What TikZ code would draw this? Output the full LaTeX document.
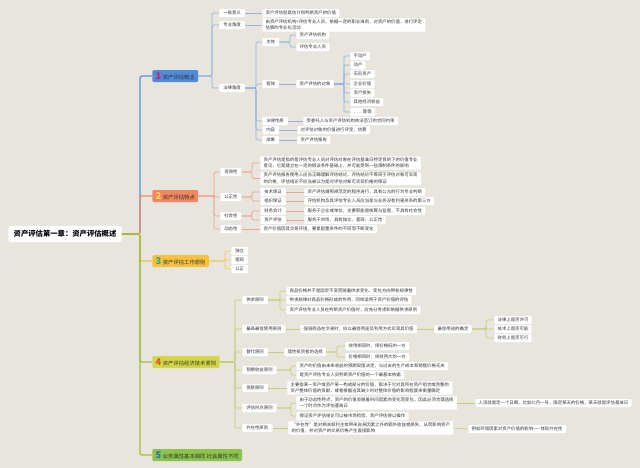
\documentclass[tikz,border=0pt]{standalone}
\usepackage{fontspec}
\setmainfont{Noto Sans CJK SC}
\usetikzlibrary{calc}
\definecolor{bgc}{HTML}{E8E5DE}
\definecolor{b1c}{HTML}{4F8BDB}
\definecolor{b2c}{HTML}{F2875F}
\definecolor{b3c}{HTML}{F4C23C}
\definecolor{b4c}{HTML}{D3D646}
\definecolor{b5c}{HTML}{8CC34B}
\definecolor{l1c}{HTML}{5B8FD6}
\definecolor{l2c}{HTML}{EE8A6A}
\definecolor{l3c}{HTML}{F2C23A}
\definecolor{l4c}{HTML}{A3BA45}
\definecolor{s1c}{HTML}{93B3D8}
\definecolor{s2c}{HTML}{EDA393}
\definecolor{s3c}{HTML}{EFCB62}
\definecolor{s4c}{HTML}{C3CE78}
\definecolor{n1c}{HTML}{D81B60}
\definecolor{n2c}{HTML}{F9E04C}
\definecolor{n3c}{HTML}{2FA58A}
\definecolor{n4c}{HTML}{E0572A}
\definecolor{n5c}{HTML}{2E6DB4}
\definecolor{txt}{HTML}{333333}
\newcommand\bnum[2]{{\fontsize{7}{7}\selectfont\bfseries\color{#1}#2}\hspace{1.2pt}}
\newcommand\myelb[4]{\draw[#1] (#2.east) -- (#2.east -| #3) |- (#4.west);}
\newcommand\mystr[3]{\draw[#1] (#2.east) -- (#3.west);}
\tikzset{
  leaf/.style={fill=white, rounded corners=0.8pt, inner xsep=2.5pt, inner ysep=1pt,
    minimum height=6pt, anchor=west, font=\fontsize{3.3}{4.9}\selectfont, text=txt, align=left},
  lab/.style={leaf, inner xsep=3pt},
  brbox/.style={rounded corners=1pt, inner xsep=2.5pt, inner ysep=0.5pt, minimum height=9pt,
    anchor=west, font=\fontsize{4}{4}\selectfont, text=txt},
  rootbox/.style={fill=white, rounded corners=2pt, inner xsep=4pt, minimum height=10.5pt,
    font=\fontsize{5.5}{5.5}\selectfont\bfseries, text=black},
  m1/.style={draw=l1c, line width=0.9pt, rounded corners=1.5pt},
  m2/.style={draw=l2c, line width=0.9pt, rounded corners=1.5pt},
  m3/.style={draw=l3c, line width=0.9pt, rounded corners=1.5pt},
  m4/.style={draw=l4c, line width=0.9pt, rounded corners=1.5pt},
  s1/.style={draw=s1c, line width=0.45pt, rounded corners=1pt},
  s2/.style={draw=s2c, line width=0.45pt, rounded corners=1pt},
  s3/.style={draw=s3c, line width=0.45pt, rounded corners=1pt},
  s4/.style={draw=s4c, line width=0.45pt, rounded corners=1pt},
}
\begin{document}
\begin{tikzpicture}[x=0.75pt,y=-0.75pt]
\fill[bgc] (0,0) rectangle (640,468);
\useasboundingbox (0,0) rectangle (640,468);
% bus coordinates
\coordinate (trunk) at (140,0);
\coordinate (x1) at (212,0);
\coordinate (x1c) at (256,0);
\coordinate (x1z) at (290,0);
\coordinate (x1k) at (344,0);
\coordinate (x2) at (214,0);
\coordinate (x2a) at (252,0);
\coordinate (x3) at (225,0);
\coordinate (x4) at (235,0);
\coordinate (x4a) at (280,0);
\coordinate (x4b) at (486,0);
\coordinate (x4c) at (337,0);
\coordinate (x4d) at (291,0);

% root and branches
\node[rootbox] (root) at (65,234) {资产评估第一章：资产评估概述};
\node[brbox, fill=b1c] (b1) at (152,76) {\bnum{n1c}{1}资产评估概念};
\node[brbox, fill=b2c] (b2) at (152,196) {\bnum{n2c}{2}资产评估特点};
\node[brbox, fill=b3c] (b3) at (152,261) {\bnum{n3c}{3}资产评估工作原则};
\node[brbox, fill=b4c] (b4) at (152,362) {\bnum{n4c}{4}资产评估经济技术原则};
\node[brbox, fill=b5c] (b5) at (152,455) {\bnum{n5c}{5}业务属性基本相同 社会属性不同};

\myelb{m1}{root}{trunk}{b1}
\myelb{m2}{root}{trunk}{b2}
\myelb{m3}{root}{trunk}{b3}
\myelb{m4}{root}{trunk}{b4}
\myelb{m4}{root}{trunk}{b5}

% ===== branch 1
\node[lab] (l1a) at (219,13) {一般意义};
\node[lab] (l1b) at (219,25) {专业角度};
\node[lab] (l1c) at (219,88) {法律角度};
\node[leaf] (t1a) at (262,13) {资产评估就是估计和判断资产的价值};
\node[leaf] (t1b) at (262,25) {由资产评估机构+评估专业人员，依据一定的职业准则，对资产的价值，进行评定\\估算的专业化活动};
\myelb{s1}{b1}{x1}{l1a}
\myelb{s1}{b1}{x1}{l1b}
\myelb{s1}{b1}{x1}{l1c}
\mystr{s1}{l1a}{t1a}
\mystr{s1}{l1b}{t1b}

\node[lab] (zt) at (262,42) {主体};
\node[lab] (kt) at (262,84) {客体};
\node[lab] (fx) at (262,121) {法律性质};
\node[lab] (nr) at (262,130) {内容};
\node[lab] (cg) at (262,140) {成果};
\myelb{s1}{l1c}{x1c}{zt}
\myelb{s1}{l1c}{x1c}{kt}
\myelb{s1}{l1c}{x1c}{fx}
\myelb{s1}{l1c}{x1c}{nr}
\myelb{s1}{l1c}{x1c}{cg}

\node[leaf] (zt1) at (296,35) {资产评估机构};
\node[leaf] (zt2) at (296,47) {评估专业人员};
\myelb{s1}{zt}{x1z}{zt1}
\myelb{s1}{zt}{x1z}{zt2}

\node[leaf] (dx) at (296,84) {资产评估的对象};
\mystr{s1}{kt}{dx}
\node[leaf] (k1) at (350,56) {不动产};
\node[leaf] (k2) at (350,65) {动产};
\node[leaf] (k3) at (350,74) {无形资产};
\node[leaf] (k4) at (350,84) {企业价值};
\node[leaf] (k5) at (350,93) {资产损失};
\node[leaf] (k6) at (350,102) {其他经济权益};
\node[leaf] (k7) at (350,112) {……等等};
\foreach \k in {k1,k2,k3,k4,k5,k6,k7} {\myelb{s1}{dx}{x1k}{\k}}

\node[leaf] (fx1) at (303,121) {受委托人与资产评估机构依法签订的合同约束};
\node[leaf] (nr1) at (297,130) {对评估对象的价值进行评定、估算};
\node[leaf] (cg1) at (297,140) {资产评估报告};
\mystr{s1}{fx}{fx1}
\mystr{s1}{nr}{nr1}
\mystr{s1}{cg}{cg1}

% ===== branch 2
\node[lab] (zx) at (220,172) {咨询性};
\node[lab] (gz) at (220,197) {公正性};
\node[lab] (sh) at (220,216) {社会性};
\node[lab] (dt) at (220,229) {动态性};
\foreach \k in {zx,gz,sh,dt} {\myelb{s2}{b2}{x2}{\k}}

\node[leaf] (zx1) at (260,163) {资产评估是指的是评估专业人员对评估对象在评估基准日特定目的下的价值专业\\意见，它是建立在一定的假设条件基础上，并可能受到一些限制条件的影响};
\node[leaf] (zx2) at (260,178.5) {资产评估报告使用人应当正确理解评估结论，评估结论不等同于评估对象可实现\\的价格，评估结论不应当被认为是对评估对象可实现价格的保证};
\myelb{s2}{zx}{x2a}{zx1}
\myelb{s2}{zx}{x2a}{zx2}

\node[lab] (js) at (260,192) {技术保证};
\node[lab] (zz) at (260,201) {组织保证};
\node[lab] (cw) at (260,211) {财务会计};
\node[lab] (zp) at (260,220) {资产评估};
\myelb{s2}{gz}{x2a}{js}
\myelb{s2}{gz}{x2a}{zz}
\myelb{s2}{sh}{x2a}{cw}
\myelb{s2}{sh}{x2a}{zp}
\node[leaf] (js1) at (304,192) {资产评估遵照规范定的程序进行，具有公允的行为专业判断};
\node[leaf] (zz1) at (304,201) {评估机构及其评估专业人员应当是与业务没有利害关系的第三方};
\node[leaf] (cw1) at (304,211) {服务于企业或单位，主要职能是核算与监督，不具有社会性};
\node[leaf] (zp1) at (304,220) {服务于市场，具有独立、客观、公正性};
\mystr{s2}{js}{js1}
\mystr{s2}{zz}{zz1}
\mystr{s2}{cw}{cw1}
\mystr{s2}{zp}{zp1}
\node[leaf] (dt1) at (260,229) {资产价值因其交易环境，要素配置条件的不同而不断变化};
\mystr{s2}{dt}{dt1}

% ===== branch 3
\node[lab] (dl) at (231,251) {独立};
\node[lab] (kg) at (231,260) {客观};
\node[lab] (gzz) at (231,269) {公正};
\foreach \k in {dl,kg,gzz} {\myelb{s3}{b3}{x3}{\k}}

% ===== branch 4
\node[lab] (gq) at (242,300) {供求原则};
\node[lab] (zg) at (242,329) {最高最佳使用原则};
\node[lab] (td) at (242,352) {替代原则};
\node[lab] (yq) at (242,370) {预期收益原则};
\node[lab] (gx) at (242,388) {贡献原则};
\node[lab] (sd) at (242,408) {评估时点原则};
\node[lab] (wz) at (242,428) {外在性原则};
\foreach \k in {gq,zg,td,yq,gx,sd,wz} {\myelb{s4}{b4}{x4}{\k}}

\node[leaf] (gq1) at (286,291) {商品价格并不是固定不变而随着供求变化，变化方向带有规律性};
\node[leaf] (gq2) at (286,300) {供求规律对商品价格形成的作用，同样适用于资产价值的评估};
\node[leaf] (gq3) at (286,310) {资产评估专业人员在判断资产价值时，应充分考虑和依据供求原则};
\foreach \k in {gq1,gq2,gq3} {\myelb{s4}{gq}{x4a}{\k}}

\node[leaf] (zg1) at (300,329) {强调商品在交易时，应以最佳用途及利用方式实现其价值};
\node[leaf] (zg2) at (434,329) {最佳用途的确定};
\mystr{s4}{zg}{zg1}
\mystr{s4}{zg1}{zg2}
\node[leaf] (zg3) at (494,320) {法律上是否许可};
\node[leaf] (zg4) at (494,329) {技术上是否可能};
\node[leaf] (zg5) at (494,338) {财务上是否可行};
\foreach \k in {zg3,zg4,zg5} {\myelb{s4}{zg2}{x4b}{\k}}

\node[leaf] (td1) at (284,352) {理性投资者的选择};
\mystr{s4}{td}{td1}
\node[leaf] (td2) at (345,346) {效用相同时，择价格低的一方};
\node[leaf] (td3) at (345,357) {价格相同时，择效用大的一方};
\myelb{s4}{td1}{x4c}{td2}
\myelb{s4}{td1}{x4c}{td3}

\node[leaf] (yq1) at (296,366) {资产的价值由未来收益的预期现值决定，与过去的生产成本和销售价格无关};
\node[leaf] (yq2) at (296,375) {是资产评估专业人员判断资产价值的一个最基本依据};
\myelb{s4}{yq}{x4d}{yq1}
\myelb{s4}{yq}{x4d}{yq2}

\node[leaf] (gx1) at (287,388) {主要指某一资产或资产某一构成部分的价值，取决于它对其所在资产组合或完整的\\资产整体价值的贡献，或者根据当其缺少时对整体价值的影响程度来衡量确定};
\mystr{s4}{gx}{gx1}

\node[leaf] (sd1) at (296,403) {由于动态性特点，资产的价值会随着时间因素的变化而变化，因此必须合理选择\\一个时点作为评估基准日};
\node[leaf] (sd2) at (296,416) {保证资产评估结论可以被市场检验，资产评估得以操作};
\myelb{s4}{sd}{x4d}{sd1}
\myelb{s4}{sd}{x4d}{sd2}
\node[leaf] (sd3) at (475,403) {人话就是定一个日期，比如七月一号，限定某天的价格，某天就是评估基准日};
\mystr{s4}{sd1}{sd3}

\node[leaf] (wz1) at (288,428) {“外在性”是对相关权利主体带来自身因素之外的额外收益或损失，从而影响资产\\的价值，并对资产的交易价格产生直接影响};
\node[leaf] (wz2) at (468,429) {例如环境因素对资产价值的影响——体现外在性};
\mystr{s4}{wz}{wz1}
\mystr{s4}{wz1}{wz2}
\end{tikzpicture}
\end{document}
